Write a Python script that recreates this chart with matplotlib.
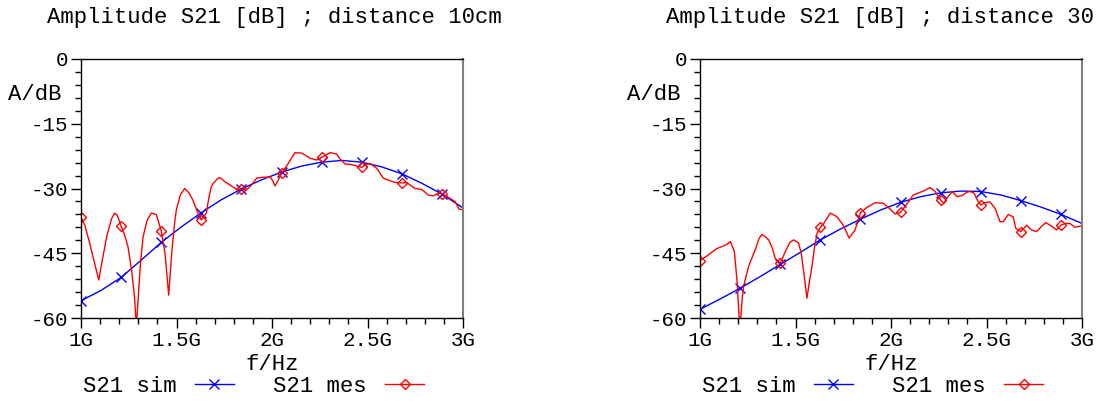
import numpy as np
import matplotlib
matplotlib.use("Agg")
import matplotlib.pyplot as plt
from matplotlib.ticker import MultipleLocator, FuncFormatter

plt.rcParams["font.family"] = ["Liberation Mono", "DejaVu Sans Mono"]
plt.rcParams["axes.unicode_minus"] = False

# ---- simulated S21 (GHz, dB) ----
sim_f = [1.0, 1.105, 1.21, 1.315, 1.42, 1.525, 1.63, 1.735, 1.84, 1.945,
         2.05, 2.155, 2.26, 2.365, 2.47, 2.575, 2.68, 2.785, 2.89, 3.0]
sim_10cm = [-56.0, -53.6, -50.6, -46.6, -42.5, -38.9, -35.6, -32.6, -30.1, -28.0,
            -26.2, -24.8, -23.9, -23.5, -23.9, -25.0, -26.6, -28.8, -31.3, -34.5]
sim_30cm = [-58.0, -55.6, -53.1, -50.4, -47.6, -44.8, -41.9, -39.4, -37.1, -35.0,
            -33.2, -31.9, -31.0, -30.6, -30.7, -31.5, -32.8, -34.3, -36.0, -38.1]

# ---- measured S21, 10 cm ----
mes10_f = [1.0, 1.02, 1.045, 1.075, 1.093, 1.11, 1.135, 1.16, 1.176, 1.19, 1.21,
           1.23, 1.246, 1.265, 1.28, 1.29, 1.30, 1.312, 1.325, 1.345, 1.368, 1.394,
           1.42, 1.44, 1.459, 1.475, 1.49, 1.499, 1.52, 1.543, 1.565, 1.586, 1.609,
           1.63, 1.656, 1.67, 1.682, 1.693, 1.717, 1.728, 1.75, 1.78, 1.815, 1.84,
           1.865, 1.885, 1.92, 1.95, 1.99, 2.005, 2.016, 2.033, 2.05, 2.085, 2.12,
           2.155, 2.2, 2.234, 2.26, 2.304, 2.339, 2.356, 2.382, 2.42, 2.452, 2.47,
           2.487, 2.513, 2.548, 2.583, 2.618, 2.644, 2.68, 2.705, 2.749, 2.784,
           2.818, 2.844, 2.871, 2.89, 2.932, 2.958, 2.98, 3.0]
mes10_db = [-36.7, -38.5, -42.6, -48.0, -51.2, -47.0, -41.0, -37.0, -35.7, -36.2, -38.7,
            -41.0, -43.5, -49.0, -55.0, -62.0, -55.0, -47.0, -41.2, -37.5, -35.7, -36.0,
            -39.8, -45.0, -54.7, -45.0, -38.0, -35.0, -31.5, -30.0, -31.0, -32.7, -35.4,
            -37.3, -35.7, -32.0, -29.6, -28.8, -27.6, -27.5, -28.3, -29.2, -30.2, -30.2,
            -30.3, -29.6, -27.6, -27.4, -27.3, -28.3, -29.4, -28.0, -26.5, -24.2, -21.7,
            -21.8, -23.0, -23.4, -22.8, -21.7, -22.0, -23.2, -24.3, -24.5, -24.9, -25.1,
            -24.5, -24.2, -25.3, -27.6, -28.2, -28.6, -28.7, -28.6, -30.0, -30.2,
            -31.5, -31.7, -31.1, -31.2, -32.3, -33.0, -34.8, -34.9]

# ---- measured S21, 30 cm ----
mes30_f = [1.0, 1.037, 1.07, 1.089, 1.124, 1.145, 1.159, 1.18, 1.195, 1.205, 1.21,
           1.22, 1.228, 1.254, 1.289, 1.31, 1.325, 1.36, 1.38, 1.394, 1.42, 1.447,
           1.47, 1.49, 1.516, 1.53, 1.545, 1.56, 1.575, 1.586, 1.6, 1.613, 1.63,
           1.648, 1.682, 1.716, 1.75, 1.781, 1.812, 1.84, 1.873, 1.916, 1.96, 1.991,
           2.021, 2.05, 2.073, 2.117, 2.169, 2.204, 2.23, 2.26, 2.277, 2.3, 2.321,
           2.347, 2.373, 2.4, 2.414, 2.435, 2.452, 2.47, 2.492, 2.518, 2.545, 2.571,
           2.588, 2.614, 2.64, 2.653, 2.68, 2.71, 2.736, 2.762, 2.788, 2.81, 2.84,
           2.867, 2.89, 2.911, 2.937, 2.963, 2.99, 3.0]
mes30_db = [-46.7, -45.6, -44.5, -43.9, -43.3, -42.8, -42.3, -44.6, -52.0, -60.0, -62.0,
            -56.0, -52.7, -48.1, -44.2, -41.5, -40.6, -41.9, -44.0, -46.2, -47.3, -44.6,
            -42.5, -41.9, -42.6, -45.0, -50.0, -55.4, -51.0, -48.1, -43.5, -40.4, -39.0,
            -38.1, -35.7, -36.5, -38.5, -41.5, -39.6, -35.6, -34.4, -33.3, -33.4, -34.6,
            -35.9, -35.5, -34.2, -31.5, -30.6, -29.8, -30.6, -32.7, -33.4, -31.8, -30.7,
            -31.9, -31.6, -30.8, -30.7, -31.1, -32.7, -33.8, -33.3, -33.1, -34.6, -37.7,
            -37.7, -36.0, -36.6, -39.2, -40.0, -38.5, -39.6, -40.0, -38.8, -37.9, -38.7,
            -39.6, -38.5, -38.1, -38.1, -39.0, -38.7, -38.7]

# frequencies carrying a symbol on each trace
marker_f = [1.0, 1.21, 1.42, 1.63, 1.84, 2.05, 2.26, 2.47, 2.68, 2.89]

titles = ["Amplitude S21 [dB] ; distance 10cm", "Amplitude S21 [dB] ; distance 30"]

BLUE = "#0000ff"
RED = "#ff0000"

W, H = 1099, 401
fig = plt.figure(figsize=(W / 100, H / 100), dpi=100)


def mark_idx(freqs):
    freqs = np.asarray(freqs)
    return [int(np.argmin(np.abs(freqs - m))) for m in marker_f]


panels = [
    (81, sim_10cm, mes10_f, mes10_db, titles[0]),
    (700, sim_30cm, mes30_f, mes30_db, titles[1]),
]

for x0, sim_db, mes_f, mes_db, title in panels:
    ax = fig.add_axes([x0 / W, 1 - 318 / H, 382 / W, 259 / H])
    ax.plot(sim_f, sim_db, color=BLUE, lw=1.0, marker="x", ms=7, mew=1.0,
            markevery=mark_idx(sim_f), label="S21 sim")
    ax.plot(mes_f, mes_db, color=RED, lw=1.0, marker="D", ms=5.5, mew=1.0,
            mfc="none", markevery=mark_idx(mes_f), label="S21 mes")

    ax.set_xlim(1.0, 3.0)
    ax.set_ylim(-60, 0)
    ax.xaxis.set_major_locator(MultipleLocator(0.5))
    ax.xaxis.set_minor_locator(MultipleLocator(0.1))
    ax.yaxis.set_major_locator(MultipleLocator(15))
    ax.yaxis.set_minor_locator(MultipleLocator(3))
    ax.xaxis.set_major_formatter(FuncFormatter(lambda v, p: f"{v:g}G"))
    ax.yaxis.set_major_formatter(FuncFormatter(lambda v, p: f"{v:g}"))
    ax.tick_params(which="major", direction="out", length=7, width=1.0,
                   labelsize=15, pad=2, top=False, right=False)
    ax.tick_params(which="minor", direction="out", length=4, width=1.0,
                   top=False, right=False)
    for s in ax.spines.values():
        s.set_linewidth(1.0)
        s.set_color("black")
    ax.spines["right"].set_color("#808080")
    ax.spines["right"].set_linewidth(1.5)

    ax.text(-73 / 382, 1 - 35 / 259, "A/dB", transform=ax.transAxes,
            ha="left", va="center", fontsize=16)
    ax.text(0.5, -46 / 259, "f/Hz", transform=ax.transAxes,
            ha="center", va="center", fontsize=16)

    fig.text((x0 - 34) / W, 1 - 17 / H, title, ha="left", va="center", fontsize=16)

    ax.legend(loc="center left", bbox_to_anchor=(0.004, -68 / 259), ncol=2,
              frameon=False, markerfirst=False, fontsize=16, handlelength=1.75,
              handletextpad=0.85, columnspacing=1.75, borderpad=0, borderaxespad=0)

fig.savefig("out.png", dpi=100)
